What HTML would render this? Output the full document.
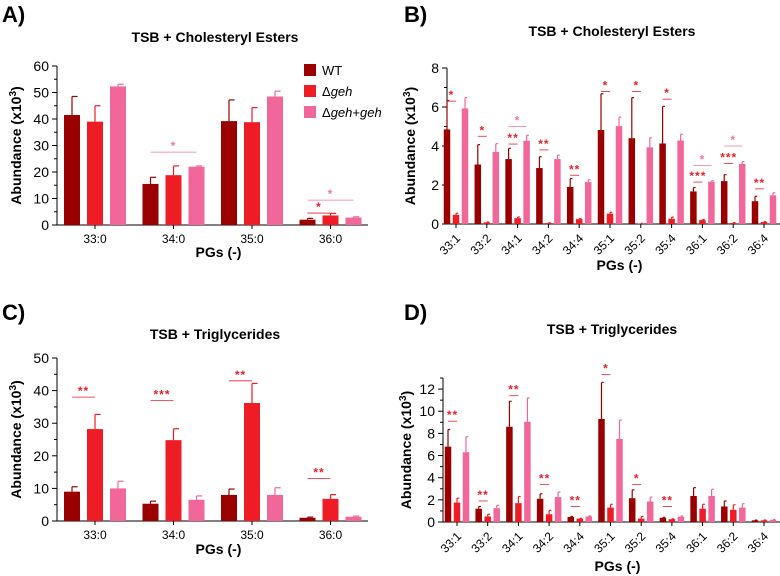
<!DOCTYPE html>
<html><head><meta charset="utf-8"><style>
body{margin:0;background:#fff;font-family:"Liberation Sans",Arial,sans-serif}
svg{display:block}
</style></head><body>
<svg id="c" width="780" height="576"></svg>
<script>
const catsA=["33:0","34:0","35:0","36:0"];
const catsB=["33:1","33:2","34:1","34:2","34:4","35:1","35:2","35:4","36:1","36:2","36:4"];
const wtA=[41.5,15.5,39.2,2],wtAe=[7,2.5,8,0.5];
const gehA=[39,18.8,38.8,3.6],gehAe=[6,3.5,5.5,0.8];
const compA=[52.3,22,48.5,2.8],compAe=[0.8,0.3,2,0.3];
const wtB=[4.85,3.05,3.33,2.87,1.9,4.82,4.4,4.13,1.67,2.2,1.17];
const wtBe=[1.48,1.02,0.55,0.58,0.43,1.86,2.08,1.9,0.2,0.33,0.25];
const gehB=[0.47,0.08,0.3,0.05,0.25,0.53,0.02,0.27,0.2,0.05,0.1];
const gehBe=[0.08,0.02,0.06,0.01,0.03,0.07,0.01,0.08,0.03,0.02,0.02];
const compB=[5.93,3.7,4.27,3.33,2.15,5.02,3.93,4.28,2.17,3.08,1.47];
const compBe=[0.55,0.42,0.28,0.2,0.12,0.46,0.49,0.32,0.05,0.12,0.13];
const wtC=[9,5.3,8,1],wtCe=[1.5,0.8,1.8,0.2];
const gehC=[28.2,24.8,36.2,6.8],gehCe=[4.5,3.5,6,1.3];
const compC=[10,6.5,8,1.3],compCe=[2.2,1.2,2.2,0.2];
const wtD=[6.8,1.2,8.6,2.1,0.45,9.3,2.15,0.38,2.35,1.4,0.15];
const wtDe=[1.55,0.2,2.3,0.45,0.05,3.3,0.75,0.04,0.75,0.5,0.02];
const gehD=[1.75,0.5,1.7,0.7,0.3,1.3,0.3,0.25,1.2,1.1,0.15];
const gehDe=[0.4,0.2,0.6,0.35,0.03,0.3,0.2,0.03,0.4,0.45,0.03];
const compD=[6.3,1.25,9.05,2.25,0.5,7.5,1.85,0.48,2.35,1.3,0.2];
const compDe=[1.4,0.25,2.15,0.45,0.05,1.7,0.4,0.07,0.6,0.35,0.02];
// significance: [category index, to-series (1=geh,2=comp), y value, text]
const sigA=[[1,2,27.5,"*"],[3,1,4.5,"*"],[3,2,9.4,"*"]];
const sigB=[[0,1,6.3,"*"],[1,1,4.5,"*"],[2,1,4.1,"**"],[2,2,5.0,"*"],[3,1,3.8,"**"],[4,1,2.5,"**"],[5,1,6.8,"*"],[6,1,6.8,"*"],[7,1,6.4,"*"],[8,1,2.15,"***"],[8,2,3.0,"*"],[9,1,3.1,"***"],[9,2,4.0,"*"],[10,1,1.8,"**"]];
const sigC=[[0,1,38,"**"],[1,1,37,"***"],[2,1,43,"**"],[3,1,13,"**"]];
const sigD=[[0,1,9.1,"**"],[1,1,1.9,"**"],[2,1,11.4,"**"],[3,1,3.4,"**"],[4,1,1.4,"**"],[5,1,13.3,"*"],[6,1,3.4,"*"],[7,1,1.4,"**"]];
const COL=["#9b0000","#ee1c25","#f2679a"];
const svg=document.getElementById('c');const NS="http://www.w3.org/2000/svg";
function mk(t,a,p){const e=document.createElementNS(NS,t);for(const k in a)e.setAttribute(k,a[k]);(p||svg).appendChild(e);return e;}
function txt(s,a,p){const e=mk('text',a,p);e.textContent=s;return e;}
function panel(o){
 const g=mk('g',{});
 
 
 const y=v=>o.y0-(v/o.max)*(o.y0-o.yTop);
 const x=i=>o.x1+o.pad+i*o.step;
 txt(o.letter,{x:o.lx,y:o.ly,'font-size':22,'font-weight':'bold'},g);
 txt(o.title,{x:o.tx,y:o.ty,'font-size':14,'font-weight':'bold','text-anchor':'middle'},g);
 mk('line',{x1:o.x1,x2:o.x1,y1:y(o.max),y2:o.y0,stroke:'#000','stroke-width':1},g);
 mk('line',{x1:o.x1,x2:o.x2,y1:o.y0,y2:o.y0,stroke:'#000','stroke-width':1},g);
 for(let v=0;v<=o.max+1e-9;v+=o.tick){
  mk('line',{x1:o.x1-5,x2:o.x1,y1:y(v),y2:y(v),stroke:'#000'},g);
  const t=txt(String(v),{x:o.x1-8,y:y(v)+5,'font-size':14,'text-anchor':'end'},g);
  
  if(v+o.tick/2<=o.max) mk('line',{x1:o.x1-3,x2:o.x1,y1:y(v+o.tick/2),y2:y(v+o.tick/2),stroke:'#000'},g);
 }
 const yl=txt('',{transform:`translate(${o.x1-o.ylOff},${(o.y0+y(o.max))/2}) rotate(-90)`,'font-size':14,'font-weight':'bold','text-anchor':'middle'},g);
 yl.innerHTML='Abundance (x10<tspan dy="-5" font-size="10">3</tspan><tspan dy="5">)</tspan>';
 
 const xt=txt('PGs (-)',{x:(o.x1+o.x2)/2+6,y:o.xty,'font-size':14,'font-weight':'bold','text-anchor':'middle'},g);
 
 o.cats.forEach((c,i)=>{
  const cx=x(i);
  mk('line',{x1:cx,x2:cx,y1:o.y0,y2:o.y0+4,stroke:'#000'},g);
  let t;
  if(o.rot){t=txt(c,{transform:`translate(${cx+5},${o.y0+15}) rotate(-45)`,'font-size':12,'text-anchor':'end'},g);}
  else t=txt(c,{x:cx,y:o.y0+18,'font-size':12,'text-anchor':'middle'},g);
  
  o.series.forEach((s,k)=>{
   const bx=cx+(k-1)*o.off-o.bw/2;const v=s[0][i],e=s[1][i];
   const r=mk('rect',{x:bx,y:y(v),width:o.bw,height:o.y0-y(v),fill:COL[k]},g);
   
   
   mk('line',{x1:bx+o.bw/2,x2:bx+o.bw/2,y1:y(v),y2:y(v+e),stroke:COL[k],'stroke-width':1.2},g);
   mk('line',{x1:bx+o.bw/2,x2:bx+o.bw/2+o.bw*0.35,y1:y(v+e),y2:y(v+e),stroke:COL[k],'stroke-width':1.2},g);
  });
 });
 o.sig.forEach(s=>{
  const cx=x(s[0]);const c=s[1]==1?'#e8202a':'#f277a0';
  const xa=cx-o.off, xb=cx+(s[1]-1)*o.off;
  mk('line',{x1:xa,x2:xb,y1:y(s[2]),y2:y(s[2]),stroke:c,'stroke-width':0.8},g);
  const t=txt(s[3],{x:(xa+xb)/2,y:y(s[2])-2,'font-size':12,'font-weight':'bold',fill:c,'text-anchor':'middle','letter-spacing':1},g);
  
 });
}
panel({name:'panel-a',letter:'A)',lx:2,ly:22,title:'TSB + Cholesteryl Esters',tx:215,ty:42,x1:57,x2:368,y0:225,yTop:66,max:60,tick:10,pad:38,step:78.5,off:23,bw:16,rot:false,cats:catsA,series:[[wtA,wtAe],[gehA,gehAe],[compA,compAe]],sig:sigA,ylOff:36,xty:257});
panel({name:'panel-b',letter:'B)',lx:404,ly:22,title:'TSB + Cholesteryl Esters',tx:612,ty:36,x1:447,x2:780,y0:224,yTop:68,max:8,tick:2,pad:9,step:30.8,off:9,bw:6.5,rot:true,cats:catsB,series:[[wtB,wtBe],[gehB,gehBe],[compB,compBe]],sig:sigB,ylOff:32,xty:270});
panel({name:'panel-c',letter:'C)',lx:2,ly:320,title:'TSB + Triglycerides',tx:215,ty:339,x1:57,x2:368,y0:521,yTop:358,max:50,tick:10,pad:38,step:78.5,off:23,bw:16,rot:false,cats:catsA,series:[[wtC,wtCe],[gehC,gehCe],[compC,compCe]],sig:sigC,ylOff:36,xty:554});
panel({name:'panel-d',letter:'D)',lx:404,ly:320,title:'TSB + Triglycerides',tx:612,ty:334,x1:443,x2:780,y0:522,yTop:378,max:13,tick:2,pad:14,step:30.7,off:9,bw:6.5,rot:true,cats:catsB,series:[[wtD,wtDe],[gehD,gehDe],[compD,compDe]],sig:sigD,ylOff:32,xty:571});
// legend
const lg=mk('g',{});


const labs=['WT','Δ<tspan font-style="italic">geh</tspan>','Δ<tspan font-style="italic">geh</tspan>+<tspan font-style="italic">geh</tspan>'];
labs.forEach((l,k)=>{
 const r=mk('rect',{x:304,y:64+k*21,width:12,height:12,fill:COL[k]},lg);
 
 const t=mk('text',{x:322,y:75+k*21,'font-size':13},lg);t.innerHTML=l;
 
});
</script>
</body></html>
